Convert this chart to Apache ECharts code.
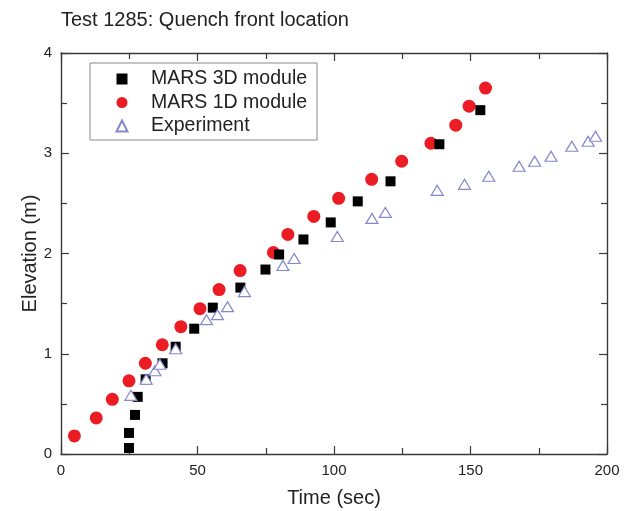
<!DOCTYPE html>
<html>
<head>
<meta charset="utf-8">
<script src="https://cdn.jsdelivr.net/npm/echarts@6/dist/echarts.min.js"></script>
<style>
  html, body { margin: 0; padding: 0; background: #fff; }
  #chart { width: 630px; height: 511px; }
</style>
</head>
<body>
<div id="chart"></div>
<script>
// Quench front elevation versus time, test 1285
const mars3dTime = [24.9, 24.9, 27.1, 28.1, 31.0, 37.2, 42.0, 48.8, 55.6, 65.7, 74.9, 79.9, 88.8, 98.8, 108.7, 120.7, 138.6, 153.6];
const mars3dElev = [0.06, 0.21, 0.39, 0.57, 0.745, 0.905, 1.07, 1.25, 1.46, 1.66, 1.84, 1.99, 2.14, 2.31, 2.52, 2.72, 3.09, 3.43];

const mars1dTime = [4.9, 12.9, 18.8, 24.9, 30.9, 37.1, 43.9, 50.9, 57.9, 65.6, 77.8, 83.1, 92.6, 101.7, 113.8, 124.8, 135.5, 144.6, 149.5, 155.5];
const mars1dElev = [0.18, 0.36, 0.545, 0.73, 0.905, 1.09, 1.27, 1.45, 1.64, 1.83, 2.01, 2.19, 2.37, 2.55, 2.74, 2.92, 3.10, 3.28, 3.47, 3.65];

const expTime = [25.6, 31.2, 34.4, 36.2, 42.0, 53.3, 57.3, 61.0, 67.2, 81.3, 85.4, 101.2, 113.9, 118.8, 137.8, 147.8, 156.7, 167.8, 173.5, 179.5, 187.1, 193.1, 195.8];
const expElev = [0.585, 0.745, 0.83, 0.895, 1.05, 1.34, 1.39, 1.47, 1.62, 1.88, 1.95, 2.17, 2.35, 2.41, 2.63, 2.69, 2.77, 2.87, 2.92, 2.97, 3.07, 3.12, 3.17];

const seriesNames = ['MARS 3D module', 'MARS 1D module', 'Experiment'];
const xTicks = { min: 0, max: 200, interval: 50 };
const yTicks = { min: 0, max: 4, interval: 1 };

const pairs = (xs, ys) => xs.map((x, i) => [x, ys[i]]);

const FONT = "'Liberation Sans', Arial, Helvetica, sans-serif";
const INK = '#222';
const FRAME = '#3a3a3a';

function frameAxis(extra) {
  return Object.assign({
    type: 'value',
    axisLine: { show: true, onZero: false, lineStyle: { color: FRAME, width: 1.4 } },
    axisTick: { show: true, inside: true, length: 8, lineStyle: { color: FRAME, width: 1.2 } },
    minorTick: { show: true, splitNumber: 2, length: 6, lineStyle: { color: FRAME, width: 1.2 } },
    splitLine: { show: false },
    minorSplitLine: { show: false }
  }, extra);
}

const chart = echarts.init(document.getElementById('chart'), null, { renderer: 'canvas' });

chart.setOption({
  animation: false,
  backgroundColor: '#fff',
  textStyle: { fontFamily: FONT },
  title: {
    text: 'Test 1285: Quench front location',
    left: 61,
    top: 10,
    padding: 0,
    textStyle: { fontFamily: FONT, fontSize: 20, fontWeight: 'normal', color: INK }
  },
  grid: { left: 61, right: 23, top: 53, bottom: 57, containLabel: false, outerBoundsMode: 'none' },
  legend: {
    orient: 'vertical',
    left: 90,
    top: 63,
    data: seriesNames,
    backgroundColor: '#fff',
    borderColor: '#8a8a8a',
    borderWidth: 1,
    padding: [6, 10, 4, 25.5],
    itemGap: 3.5,
    itemWidth: 11,
    itemHeight: 11,
    textStyle: { fontFamily: FONT, fontSize: 19.5, color: INK, lineHeight: 20, padding: [0, 0, 0, 18.5] }
  },
  xAxis: [
    frameAxis({
      min: xTicks.min, max: xTicks.max, interval: xTicks.interval,
      position: 'bottom',
      name: 'Time (sec)', nameLocation: 'middle', nameGap: 34, nameMoveOverlap: false,
      nameTextStyle: { fontFamily: FONT, fontSize: 20, color: INK },
      axisLabel: { show: true, margin: 9, fontFamily: FONT, fontSize: 15, color: INK }
    }),
    frameAxis({
      min: xTicks.min, max: xTicks.max, interval: xTicks.interval,
      position: 'top',
      axisLabel: { show: false }
    })
  ],
  yAxis: [
    frameAxis({
      min: yTicks.min, max: yTicks.max, interval: yTicks.interval,
      position: 'left',
      name: 'Elevation (m)', nameLocation: 'middle', nameGap: 21, nameMoveOverlap: false,
      nameTextStyle: { fontFamily: FONT, fontSize: 20, color: INK },
      axisLabel: { show: true, margin: 9, fontFamily: FONT, fontSize: 15, color: INK }
    }),
    frameAxis({
      min: yTicks.min, max: yTicks.max, interval: yTicks.interval,
      position: 'right',
      axisLabel: { show: false }
    })
  ],
  series: [
    {
      name: seriesNames[0],
      type: 'scatter',
      z: 3,
      symbol: 'rect',
      symbolSize: 10,
      itemStyle: { color: '#000', opacity: 1 },
      data: pairs(mars3dTime, mars3dElev)
    },
    {
      name: seriesNames[1],
      type: 'scatter',
      z: 2,
      symbol: 'circle',
      symbolSize: 13,
      itemStyle: { color: '#ec1c24', opacity: 1 },
      data: pairs(mars1dTime, mars1dElev)
    },
    {
      name: seriesNames[2],
      type: 'scatter',
      z: 4,
      symbol: 'triangle',
      symbolSize: [12, 10],
      itemStyle: { color: '#fff', borderColor: '#8488cc', borderWidth: 1.2, opacity: 1 },
      data: pairs(expTime, expElev)
    }
  ]
});
</script>
</body>
</html>
